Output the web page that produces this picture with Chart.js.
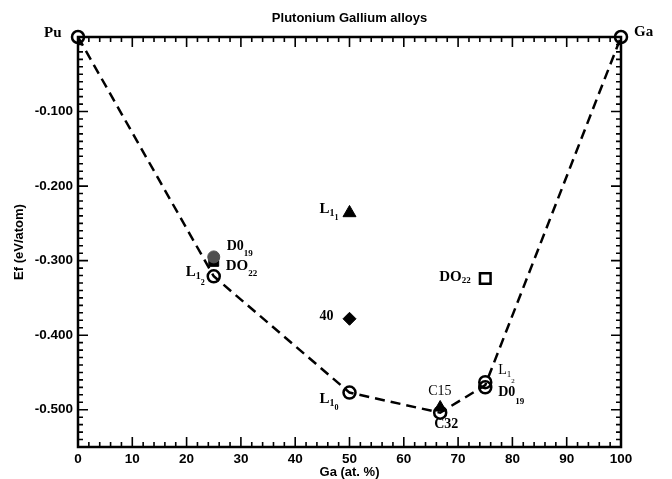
<!DOCTYPE html>
<html>
<head>
<meta charset="utf-8">
<script src="https://cdn.jsdelivr.net/npm/chart.js@4/dist/chart.umd.min.js"></script>
<style>
html,body{margin:0;padding:0;background:#fff;}
#wrap{width:672px;height:479px;}
</style>
</head>
<body>
<div id="wrap"><canvas id="plot" width="672" height="479"></canvas></div>
<script>
// values
const hullGa = [0, 25, 50, 66.7, 75, 100];
const hullEf = [0, -0.321, -0.477, -0.504, -0.467, 0];

const openGa = [0, 25, 50, 66.7, 75, 75, 100];
const openEf = [0, -0.321, -0.477, -0.504, -0.463, -0.470, 0];

const d019Ga = [25];
const d019Ef = [-0.295];
const do22Ga = [25];
const do22Ef = [-0.301];
const l11Ga = [50];
const l11Ef = [-0.236];
const s40Ga = [50];
const s40Ef = [-0.378];
const c15Ga = [66.7];
const c15Ef = [-0.497];
const do22bGa = [75];
const do22bEf = [-0.324];

const xTickVals = [0, 10, 20, 30, 40, 50, 60, 70, 80, 90, 100];
const yTickVals = [-0.1, -0.2, -0.3, -0.4, -0.5];

const pts = (xs, ys) => xs.map((x, i) => ({x: x, y: ys[i]}));

const serif = '"Liberation Serif", "Times New Roman", serif';
const sans = '"Liberation Sans", Arial, sans-serif';

// text next to points: [text, size, drop, bold]
const notes = [
  {set: 1, i: 0, dx: -34, dy: 0, parts: [['Pu', 15, 0, 1]]},
  {set: 1, i: 6, dx: 13, dy: -1, parts: [['Ga', 15, 0, 1]]},
  {set: 2, i: 0, dx: 13, dy: -7, parts: [['D0', 14, 0, 1], ['19', 9, 6, 1]]},
  {set: 3, i: 0, dx: 12, dy: 9, parts: [['DO', 15, 0, 1], ['22', 9, 6, 1]]},
  {set: 1, i: 1, dx: -28, dy: 0, parts: [['L', 15, 0, 1], ['1', 10, 3, 1], ['2', 8, 9, 1]]},
  {set: 4, i: 0, dx: -30, dy: 0, parts: [['L', 15, 0, 1], ['1', 10, 3, 1], ['1', 8, 7, 1]]},
  {set: 5, i: 0, dx: -30, dy: 1, parts: [['40', 14, 0, 1]]},
  {set: 1, i: 2, dx: -30, dy: 10, parts: [['L', 15, 0, 1], ['1', 10, 3, 1], ['0', 8, 7, 1]]},
  {set: 6, i: 0, dx: -12, dy: -12, parts: [['C15', 14, 0, 0]]},
  {set: 1, i: 3, dx: -6, dy: 15, parts: [['C32', 14, 0, 1]]},
  {set: 7, i: 0, dx: -46, dy: 2, parts: [['DO', 15, 0, 1], ['22', 9, 2, 1]]},
  {set: 1, i: 4, dx: 13, dy: -8, parts: [['L', 14, 0, 0], ['1', 9, 3, 0], ['2', 7, 9, 0]]},
  {set: 1, i: 5, dx: 13, dy: 9, parts: [['D0', 14, 0, 1], ['19', 9, 8, 1]]}
];

const frame = {
  id: 'frame',
  beforeDatasetsDraw(chart) {
    const {ctx, chartArea: a, scales: {x, y}} = chart;
    ctx.save();
    ctx.strokeStyle = '#000';
    ctx.lineWidth = 2.5;
    ctx.strokeRect(a.left, a.top, a.right - a.left, a.bottom - a.top);
    ctx.lineWidth = 1.6;
    ctx.beginPath();
    for (let i = 0; i <= 50; i++) {
      const px = x.getPixelForValue(i * 2);
      const len = i % 5 === 0 ? 10 : 5;
      ctx.moveTo(px, a.bottom); ctx.lineTo(px, a.bottom - len);
      ctx.moveTo(px, a.top); ctx.lineTo(px, a.top + len);
    }
    for (let i = 0; i <= 55; i++) {
      const py = y.getPixelForValue(-i / 100);
      const len = i % 10 === 0 ? 10 : 5;
      ctx.moveTo(a.left, py); ctx.lineTo(a.left + len, py);
      ctx.moveTo(a.right, py); ctx.lineTo(a.right - len, py);
    }
    ctx.stroke();
    ctx.fillStyle = '#000';
    ctx.font = 'bold 13px ' + sans;
    ctx.textAlign = 'center';
    ctx.textBaseline = 'middle';
    ctx.fillText('Plutonium Gallium alloys', (a.left + a.right) / 2, 18);
    ctx.restore();
  },
  afterDatasetsDraw(chart) {
    const {ctx} = chart;
    ctx.save();
    ctx.fillStyle = '#000';
    ctx.textAlign = 'left';
    ctx.textBaseline = 'alphabetic';
    notes.forEach(n => {
      const el = chart.getDatasetMeta(n.set).data[n.i];
      let tx = el.x + n.dx;
      const ty = el.y + n.dy;
      n.parts.forEach(p => {
        ctx.font = (p[3] ? 'bold ' : '') + p[1] + 'px ' + serif;
        ctx.fillText(p[0], tx, ty + p[2]);
        tx += ctx.measureText(p[0]).width;
      });
    });
    ctx.restore();
  }
};

const marker = (style, r, fill, border) => ({
  type: 'scatter', showLine: false, clip: false,
  pointStyle: style, pointRadius: r, pointHoverRadius: r,
  pointBackgroundColor: fill, pointBorderColor: border, pointBorderWidth: 2.5
});

new Chart(document.getElementById('plot'), {
  type: 'scatter',
  data: {
    datasets: [
      {data: pts(hullGa, hullEf), type: 'line', showLine: true, fill: false, clip: false,
       borderColor: '#000', borderWidth: 2.5, borderDash: [10, 6], pointRadius: 0, order: 10},
      Object.assign(marker('circle', 6, 'rgba(0,0,0,0)', '#000'), {data: pts(openGa, openEf), order: 5}),
      Object.assign(marker('circle', 6, '#505050', '#505050'), {data: pts(d019Ga, d019Ef), order: 3, pointBorderWidth: 1}),
      Object.assign(marker('rect', 7, '#000', '#000'), {data: pts(do22Ga, do22Ef), order: 4, pointBorderWidth: 1}),
      Object.assign(marker('triangle', 7.5, '#000', '#000'), {data: pts(l11Ga, l11Ef), order: 4, pointBorderWidth: 1}),
      Object.assign(marker('rectRot', 6.5, '#000', '#000'), {data: pts(s40Ga, s40Ef), order: 4, pointBorderWidth: 1}),
      Object.assign(marker('triangle', 7, '#000', '#000'), {data: pts(c15Ga, c15Ef), order: 4, pointBorderWidth: 1}),
      Object.assign(marker('rect', 7.5, 'rgba(0,0,0,0)', '#000'), {data: pts(do22bGa, do22bEf), order: 4})
    ]
  },
  options: {
    responsive: false,
    animation: false,
    layout: {padding: {top: 37, right: 51, left: 0, bottom: 0}},
    plugins: {legend: {display: false}, tooltip: {enabled: false}, title: {display: false}},
    scales: {
      x: {
        type: 'linear', min: 0, max: 100,
        grid: {display: false, drawTicks: false}, border: {display: false},
        afterBuildTicks: s => { s.ticks = xTickVals.map(v => ({value: v})); },
        afterFit: s => { s.height = 32; },
        ticks: {color: '#000', padding: 4, font: {family: sans, size: 13.5, weight: 'bold'}},
        title: {display: true, text: 'Ga (at. %)', color: '#000', padding: {top: 0, bottom: 0},
                font: {family: sans, size: 13, weight: 'bold', lineHeight: 1}}
      },
      y: {
        type: 'linear', min: -0.55, max: 0,
        grid: {display: false, drawTicks: false}, border: {display: false},
        afterBuildTicks: s => { s.ticks = yTickVals.map(v => ({value: v})); },
        afterFit: s => { s.width = 78; },
        ticks: {color: '#000', padding: 5, font: {family: sans, size: 13.5, weight: 'bold'},
                callback: v => v.toFixed(3)},
        title: {display: true, text: 'Ef (eV/atom)', color: '#000', padding: {top: 12, bottom: 0},
                font: {family: sans, size: 13, weight: 'bold'}}
      }
    }
  },
  plugins: [frame]
});
</script>
</body>
</html>
